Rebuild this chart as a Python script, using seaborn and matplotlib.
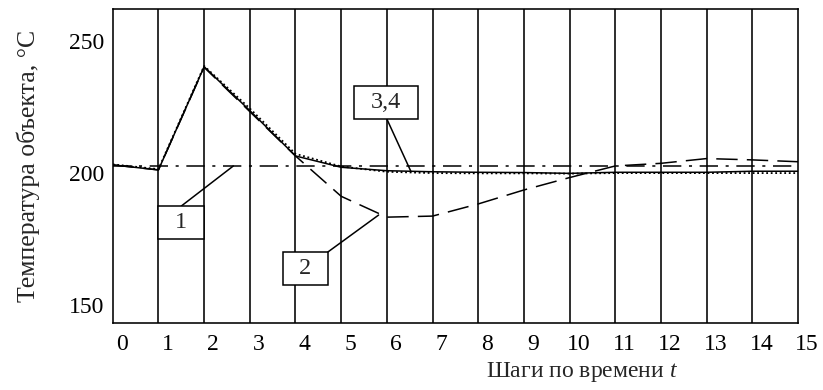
"""
Temperature of the object vs time steps (curves 1-4)
"""

import numpy as np
import pandas as pd
import matplotlib
matplotlib.use("Agg")
import matplotlib.pyplot as plt
import matplotlib.transforms as mtransforms
from matplotlib.patches import Rectangle
import seaborn as sns

"""Data read off the picture"""

steps = [0, 1, 2, 3, 4, 5, 6, 7, 8, 9, 10, 11, 12, 13, 14, 15]
curve1 = [200.0, 200.0, 200.0, 200.0, 200.0, 200.0, 200.0, 200.0, 200.0, 200.0, 200.0, 200.0, 200.0, 200.0, 200.0, 200.0]
curve2 = [200.4, 198.5, 237.4, 220.6, 203.8, 188.5, 180.6, 181.0, 185.6, 190.9, 195.6, 200.0, 201.0, 202.8, 202.3, 201.6]
curve3 = [200.4, 198.5, 237.6, 221.0, 203.8, 199.5, 198.2, 197.8, 197.6, 197.5, 197.2, 197.6, 197.6, 197.6, 198.0, 198.0]
curve4 = [200.6, 198.8, 237.9, 221.8, 204.6, 199.8, 197.8, 197.3, 197.2, 197.2, 197.1, 197.3, 197.3, 197.3, 197.3, 197.3]

yticks = [150, 200, 250]

data = pd.DataFrame({"t": steps, "c1": curve1, "c2": curve2, "c3": curve3, "c4": curve4})

"""Plot"""

sns.set_theme(style="white")
plt.rcParams["font.family"] = ["Liberation Serif", "DejaVu Serif"]
plt.rcParams["mathtext.fontset"] = "custom"
plt.rcParams["mathtext.it"] = "Liberation Serif:italic"
plt.rcParams["mathtext.rm"] = "Liberation Serif"

fig = plt.figure(figsize=(8.23, 3.9), dpi=100)
ax = fig.add_axes([0.137, 0.1726, 0.9696 - 0.137, 0.977 - 0.1726])

# vertical grid at every step
for s in steps[1:-1]:
    ax.axvline(s, color="black", lw=1.15, zorder=1)

sns.lineplot(data=data, x="t", y="c1", color="black", lw=1.1, ax=ax,
             linestyle=(0, (12, 5, 2, 5)), zorder=3)
sns.lineplot(data=data, x="t", y="c2", color="black", lw=1.1, ax=ax,
             linestyle=(0, (14, 6)), zorder=3)
sns.lineplot(data=data, x="t", y="c4", color="black", lw=1.3, ax=ax,
             linestyle=(0, (1, 1.5)), zorder=3)
sns.lineplot(data=data, x="t", y="c3", color="black", lw=1.1, ax=ax,
             linestyle="-", zorder=4)

ax.set_xlim(0, 15)
ax.set_ylim(140.6, 259.5)
ax.set_xticks(steps)
ax.set_yticks(yticks)
ax.set_xlabel("")
ax.set_ylabel("")

for sp in ax.spines.values():
    sp.set_color("black")
    sp.set_linewidth(1.15)

ax.tick_params(axis="x", length=0, labelsize=17, colors="black", pad=8)
ax.tick_params(axis="y", direction="in", length=7, width=1.15,
               labelsize=17, colors="black", pad=6)

# labels in the source sit a bit right of the grid lines
off = mtransforms.ScaledTranslation(0.09, 0, fig.dpi_scale_trans)
for lab in ax.get_xticklabels():
    lab.set_transform(lab.get_transform() + off)
offy = mtransforms.ScaledTranslation(0, -0.07, fig.dpi_scale_trans)
for lab in ax.get_yticklabels():
    lab.set_transform(lab.get_transform() + offy)

fig.text(0.034, 0.575, "Температура объекта, °C", rotation=90,
         ha="center", va="center", fontsize=18.5)
fig.text(0.707, 0.046, "Шаги по времени $t$", ha="center", va="center",
         fontsize=17)

# curve labels in boxes with leader lines
def box_label(txt, x0, y0, x1, y1, p_from, p_to):
    ax.plot([p_from[0], p_to[0]], [p_from[1], p_to[1]], color="black", lw=1.1, zorder=5)
    ax.add_patch(Rectangle((x0, y0), x1 - x0, y1 - y0, facecolor="white",
                           edgecolor="black", lw=1.1, zorder=6))
    ax.text((x0 + x1) / 2, (y0 + y1) / 2, txt, ha="center", va="center",
            fontsize=17.5, zorder=7)

box_label("1", 1.0, 172.3, 2.0, 184.8, (1.5, 184.8), (2.64, 200.0))
box_label("2", 3.72, 154.8, 4.71, 167.4, (4.71, 167.4), (5.82, 181.4))
box_label("3,4", 5.29, 217.8, 6.68, 230.3, (6.0, 217.8), (6.53, 197.8))

fig.savefig("out.png", dpi=100)
